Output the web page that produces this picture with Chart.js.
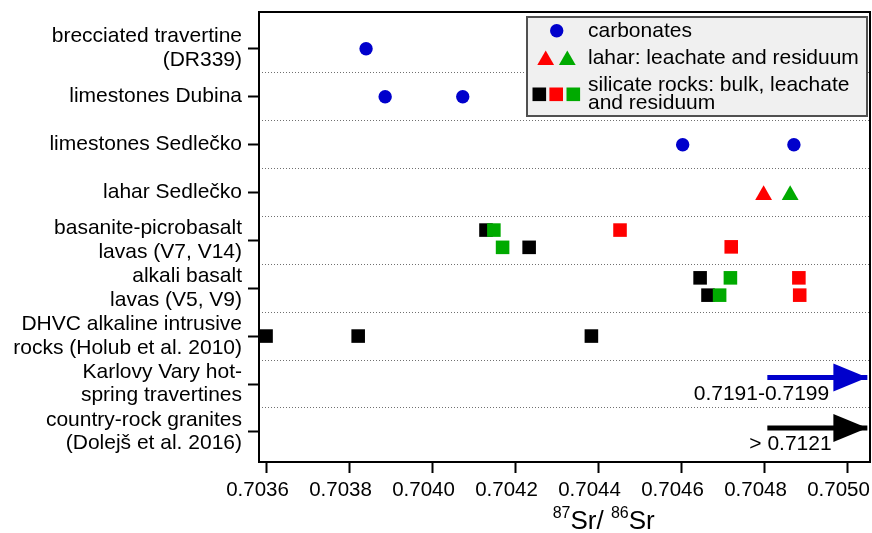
<!DOCTYPE html>
<html>
<head>
<meta charset="utf-8">
<script src="https://cdn.jsdelivr.net/npm/chart.js@4.4.0/dist/chart.umd.min.js"></script>
<style>
  html, body { margin: 0; padding: 0; background: #fff; }
  #wrap { width: 872px; height: 533px; }
</style>
</head>
<body>
<div id="wrap"><canvas id="srChart"></canvas></div>
<script>
// rows, top to bottom (row index 1..9)
const rowLabels = [
  ['brecciated travertine', '(DR339)'],
  'limestones Dubina',
  'limestones Sedlečko',
  'lahar Sedlečko',
  ['basanite-picrobasalt', 'lavas (V7, V14)'],
  ['alkali basalt', 'lavas (V5, V9)'],
  ['DHVC alkaline intrusive', 'rocks (Holub et al. 2010)'],
  ['Karlovy Vary hot-', 'spring travertines'],
  ['country-rock granites', '(Dolejš et al. 2016)']
];
const xTicks = [0.7036, 0.7038, 0.7040, 0.7042, 0.7044, 0.7046, 0.7048, 0.7050];

// carbonates
const carbX = [0.703841, 0.703887, 0.704074, 0.704604, 0.704872];
const carbY = [1.01, 2.01, 2.01, 3.01, 3.01];
// lahar: leachate (red) and residuum (green)
const laharLeachX = [0.704799];
const laharLeachY = [4.06];
const laharResX = [0.704863];
const laharResY = [4.06];
// silicate rocks: bulk (black), leachate (red), residuum (green)
const bulkX = [0.704130, 0.704234, 0.704646, 0.704665, 0.703600, 0.703822, 0.704384];
const bulkY = [4.79, 5.15, 5.786, 6.147, 7.0, 7.0, 7.0];
const leachX = [0.704453, 0.704721, 0.704884, 0.704886];
const leachY = [4.79, 5.14, 5.786, 6.147];
const resX = [0.704149, 0.704170, 0.704719, 0.704693];
const resY = [4.79, 5.15, 5.786, 6.147];
// off-scale values shown as arrows
const arrowStartX = [0.704808, 0.704808];
const arrowEndX = [0.705049, 0.705049];
const arrowY = [7.864, 8.916];
const arrowColors = ['#0000cc', '#000000'];
const arrowLabels = ['0.7191-0.7199', '> 0.7121'];
const arrowLabelX = [0.704957, 0.704963];
const arrowLabelY = [8.206, 9.25];

const FONT = "'Liberation Sans', Arial, sans-serif";
const BLUE = '#0000cc', RED = '#ff0000', GREEN = '#00aa00', BLACK = '#000000';

const pts = (xs, ys) => xs.map((v, i) => ({ x: v, y: ys[i] }));

const yTickVals = [];
for (let v = 1; v <= 9; v += 0.5) yTickVals.push(v);
const isRow = v => Math.abs(v - Math.round(v)) < 1e-9;

function marker(color, style, radius, order) {
  return { backgroundColor: color, borderColor: color, pointStyle: style, pointRadius: radius,
    pointHoverRadius: radius, pointBorderWidth: 0, showLine: false, order };
}

const datasets = [
  { label: 'carbonates', data: pts(carbX, carbY), ...marker(BLUE, 'circle', 6.7, 1) },
  { label: 'lahar leachate', data: pts(laharLeachX, laharLeachY), ...marker(RED, 'triangle', 9.7, 1) },
  { label: 'lahar residuum', data: pts(laharResX, laharResY), ...marker(GREEN, 'triangle', 9.7, 1) },
  { label: 'bulk', data: pts(bulkX, bulkY), ...marker(BLACK, 'rect', 9.6, 4) },
  { label: 'leachate', data: pts(leachX, leachY), ...marker(RED, 'rect', 9.6, 3) },
  { label: 'residuum', data: pts(resX, resY), ...marker(GREEN, 'rect', 9.6, 2) }
];
arrowY.forEach((yv, i) => {
  datasets.push({
    label: 'arrow' + i, isArrow: true,
    data: [{ x: arrowStartX[i], y: yv }, { x: arrowEndX[i], y: yv }],
    showLine: true, borderColor: arrowColors[i], backgroundColor: arrowColors[i],
    borderWidth: 5, pointRadius: 0, order: 0
  });
});

const zeroPad = s => { s.paddingLeft = 0; s.paddingRight = 0; s.paddingTop = 0; s.paddingBottom = 0; };

const extras = {
  id: 'extras',
  afterDatasetsDraw(chart) {
    const { ctx, scales: { x, y } } = chart;
    // arrowheads at the end of the arrow lines
    chart.data.datasets.forEach((ds, i) => {
      if (!ds.isArrow) return;
      const end = chart.getDatasetMeta(i).data[1];
      ctx.save();
      ctx.fillStyle = ds.borderColor;
      ctx.beginPath();
      ctx.moveTo(end.x, end.y);
      ctx.lineTo(end.x - 34, end.y - 14);
      ctx.lineTo(end.x - 34, end.y + 14);
      ctx.closePath();
      ctx.fill();
      ctx.restore();
    });
    ctx.save();
    ctx.font = '21px ' + FONT;
    ctx.fillStyle = '#000';
    ctx.textAlign = 'right';
    ctx.textBaseline = 'middle';
    arrowLabels.forEach((t, i) => {
      ctx.fillText(t, x.getPixelForValue(arrowLabelX[i]), y.getPixelForValue(arrowLabelY[i]));
    });
    ctx.restore();
  },
  afterDraw(chart) {
    const { ctx, chartArea: a } = chart;
    ctx.save();
    // plot frame
    ctx.strokeStyle = '#000';
    ctx.lineWidth = 2;
    ctx.strokeRect(a.left, a.top, a.right - a.left, a.bottom - a.top);

    // legend
    ctx.fillStyle = '#f0f0f0';
    ctx.fillRect(527, 17, 340, 99);
    ctx.strokeStyle = '#505050';
    ctx.lineWidth = 2;
    ctx.strokeRect(527, 17, 340, 99);
    ctx.fillStyle = BLUE;
    ctx.beginPath();
    ctx.arc(556.7, 30.7, 6.7, 0, Math.PI * 2);
    ctx.fill();
    [[545.7, RED], [567.3, GREEN]].forEach(([cx, c]) => {
      ctx.fillStyle = c;
      ctx.beginPath();
      ctx.moveTo(cx, 50.5);
      ctx.lineTo(cx + 8.4, 65);
      ctx.lineTo(cx - 8.4, 65);
      ctx.closePath();
      ctx.fill();
    });
    [[539.3, BLACK], [556.2, RED], [573.3, GREEN]].forEach(([cx, c]) => {
      ctx.fillStyle = c;
      ctx.fillRect(cx - 6.8, 87.5, 13.6, 13.6);
    });
    ctx.fillStyle = '#000';
    ctx.font = '21px ' + FONT;
    ctx.textAlign = 'left';
    ctx.textBaseline = 'middle';
    ctx.fillText('carbonates', 588, 31);
    ctx.fillText('lahar: leachate and residuum', 588, 58.5);
    ctx.fillText('silicate rocks: bulk, leachate', 588, 85.5);
    ctx.fillText('and residuum', 588, 103);

    // x axis title: 87Sr/ 86Sr
    const parts = [['87', 16, -11], ['Sr/ ', 26, 0], ['86', 16, -11], ['Sr', 26, 0]];
    let total = 0;
    parts.forEach(p => { ctx.font = p[1] + 'px ' + FONT; total += ctx.measureText(p[0]).width; });
    let tx = 603.7 - total / 2;
    const base = 528.5;
    ctx.textBaseline = 'alphabetic';
    parts.forEach(p => {
      ctx.font = p[1] + 'px ' + FONT;
      ctx.fillText(p[0], tx, base + p[2]);
      tx += ctx.measureText(p[0]).width;
    });
    ctx.restore();
  }
};

new Chart(document.getElementById('srChart'), {
  type: 'scatter',
  data: { datasets },
  options: {
    responsive: true,
    maintainAspectRatio: false,
    animation: false,
    layout: { autoPadding: false, padding: { top: 12, right: 2, left: 0, bottom: 0 } },
    plugins: { legend: { display: false }, tooltip: { enabled: false } },
    scales: {
      x: {
        type: 'linear',
        min: 0.703583,
        max: 0.7050554,
        afterBuildTicks: s => { s.ticks = xTicks.map(v => ({ value: v })); },
        afterFit: s => { s.height = 71; zeroPad(s); },
        ticks: {
          autoSkip: false, maxRotation: 0, padding: 5, labelOffset: -8.5,
          color: '#000', font: { family: FONT, size: 20.5 },
          callback: v => Number(v).toFixed(4)
        },
        grid: { drawOnChartArea: false, tickLength: 11, tickWidth: 2, tickColor: '#000' },
        border: { display: false }
      },
      y: {
        type: 'linear',
        reverse: true,
        min: 0.2427,
        max: 9.626,
        afterBuildTicks: s => { s.ticks = yTickVals.map(v => ({ value: v })); },
        afterFit: s => { s.width = 259; zeroPad(s); },
        ticks: {
          autoSkip: false, padding: 6, color: '#000',
          font: { family: FONT, size: 21, lineHeight: 1.11 },
          callback: v => isRow(v) ? rowLabels[Math.round(v) - 1] : ''
        },
        grid: {
          lineWidth: 1,
          color: c => isRow(c.tick.value) ? 'rgba(0,0,0,0)' : '#707070',
          tickColor: c => isRow(c.tick.value) ? '#000' : 'rgba(0,0,0,0)',
          tickLength: 11, tickWidth: 2
        },
        border: { display: false, dash: [1, 2] }
      }
    }
  },
  plugins: [extras]
});
</script>
</body>
</html>
